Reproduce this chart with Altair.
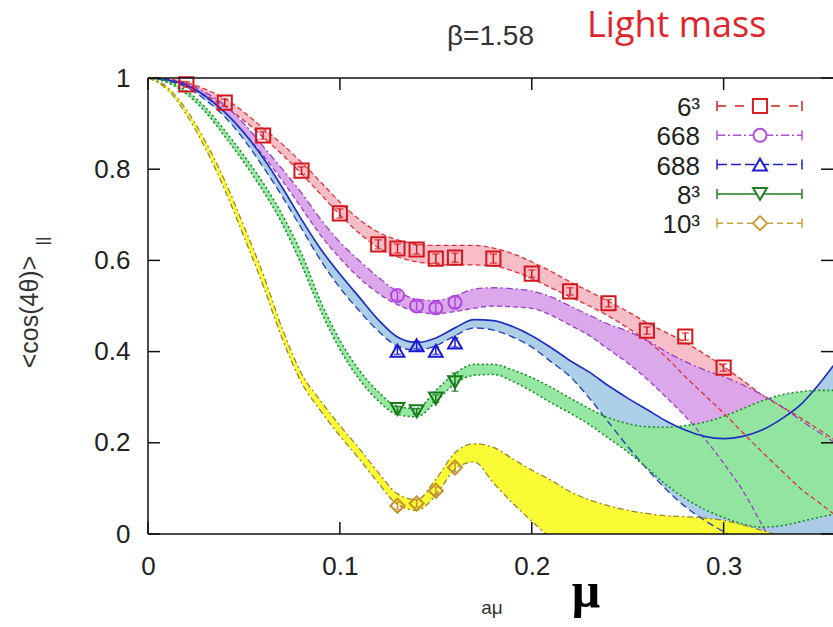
import altair as alt
import pandas as pd

# ---------------- data ----------------
MU = [0.00, 0.01, 0.02, 0.03, 0.04, 0.05, 0.06, 0.07, 0.08, 0.09,
      0.10, 0.11, 0.12, 0.13, 0.14, 0.15, 0.16, 0.17, 0.18, 0.19,
      0.20, 0.21, 0.22, 0.23, 0.24, 0.25, 0.26, 0.27, 0.28, 0.29,
      0.30, 0.31, 0.32, 0.33, 0.34, 0.35, 0.36]

B6_HI = [1.000, 0.998, 0.990, 0.975, 0.955, 0.925, 0.890, 0.855, 0.815, 0.772,
         0.728, 0.690, 0.662, 0.645, 0.636, 0.633, 0.633, 0.633, 0.627, 0.615,
         0.597, 0.576, 0.553, 0.532, 0.510, 0.488, 0.463, 0.442, 0.420, 0.395,
         0.367, 0.337, 0.305, 0.280, 0.255, 0.228, 0.200]
B6_LO = [1.000, 0.995, 0.980, 0.962, 0.938, 0.907, 0.870, 0.832, 0.790, 0.745,
         0.700, 0.660, 0.628, 0.608, 0.597, 0.592, 0.590, 0.590, 0.588, 0.577,
         0.560, 0.540, 0.520, 0.500, 0.478, 0.452, 0.424, 0.388, 0.345, 0.305,
         0.265, 0.222, 0.180, 0.140, 0.100, 0.068, 0.035]

B668_HI = [1.000, 0.997, 0.988, 0.968, 0.940, 0.900, 0.850, 0.800, 0.748, 0.690,
           0.640, 0.600, 0.563, 0.532, 0.515, 0.512, 0.522, 0.537, 0.540, 0.538,
           0.533, 0.520, 0.500, 0.480, 0.460, 0.445, 0.425, 0.400, 0.378, 0.360,
           0.345, 0.327, 0.305, 0.280, 0.250, 0.222, 0.195]
B668_LO = [1.000, 0.995, 0.982, 0.958, 0.925, 0.880, 0.830, 0.775, 0.715, 0.655,
           0.605, 0.562, 0.528, 0.503, 0.488, 0.483, 0.488, 0.495, 0.500, 0.498,
           0.495, 0.480, 0.458, 0.435, 0.405, 0.375, 0.340, 0.300, 0.258, 0.210,
           0.155, 0.095, 0.020, -0.060, -0.130, -0.200, -0.270]

B688_HI = [1.000, 0.996, 0.985, 0.960, 0.925, 0.880, 0.825, 0.760, 0.690, 0.625,
           0.570, 0.520, 0.470, 0.432, 0.420, 0.430, 0.452, 0.470, 0.468, 0.455,
           0.435, 0.409, 0.380, 0.355, 0.325, 0.298, 0.273, 0.248, 0.228, 0.214,
           0.209, 0.214, 0.228, 0.252, 0.283, 0.330, 0.385]
B688_LO = [1.000, 0.994, 0.980, 0.952, 0.915, 0.865, 0.805, 0.740, 0.670, 0.600,
           0.540, 0.490, 0.445, 0.412, 0.403, 0.413, 0.435, 0.452, 0.447, 0.432,
           0.410, 0.378, 0.345, 0.298, 0.245, 0.192, 0.143, 0.098, 0.060, 0.030,
           0.005, -0.020, -0.040, -0.060, -0.080, -0.100, -0.120]

B8_HI = [1.000, 0.993, 0.972, 0.935, 0.885, 0.830, 0.770, 0.700, 0.615, 0.510,
         0.425, 0.360, 0.312, 0.280, 0.275, 0.315, 0.352, 0.372, 0.372, 0.360,
         0.343, 0.322, 0.298, 0.275, 0.255, 0.242, 0.235, 0.234, 0.238, 0.245,
         0.258, 0.275, 0.292, 0.305, 0.312, 0.315, 0.315]
B8_LO = [1.000, 0.990, 0.965, 0.925, 0.872, 0.815, 0.752, 0.680, 0.590, 0.490,
         0.405, 0.340, 0.292, 0.262, 0.257, 0.290, 0.330, 0.348, 0.350, 0.335,
         0.313, 0.288, 0.265, 0.240, 0.210, 0.180, 0.145, 0.108, 0.078, 0.054,
         0.036, 0.022, 0.015, 0.018, 0.027, 0.037, 0.045]

B10_HI = [1.000, 0.980, 0.930, 0.860, 0.775, 0.675, 0.570, 0.450, 0.352, 0.292,
          0.238, 0.188, 0.135, 0.088, 0.075, 0.120, 0.178, 0.198, 0.190, 0.165,
          0.140, 0.118, 0.093, 0.075, 0.062, 0.052, 0.045, 0.040, 0.038, 0.035,
          0.030, 0.020, 0.008, -0.005, -0.020, -0.035, -0.050]
B10_LO = [1.000, 0.975, 0.920, 0.845, 0.755, 0.652, 0.545, 0.428, 0.332, 0.270,
          0.215, 0.165, 0.112, 0.065, 0.052, 0.085, 0.142, 0.158, 0.112, 0.068,
          0.028, -0.010, -0.050, -0.090, -0.130, -0.170, -0.210, -0.250, -0.290, -0.330,
          -0.370, -0.410, -0.450, -0.490, -0.530, -0.570, -0.610]

P6_MU = [0.02, 0.04, 0.06, 0.08, 0.10, 0.12, 0.13, 0.14, 0.15, 0.16,
         0.18, 0.20, 0.22, 0.24, 0.26, 0.28, 0.30]
P6_Y = [0.986, 0.946, 0.874, 0.797, 0.703, 0.635, 0.626, 0.624, 0.604, 0.606,
        0.604, 0.571, 0.532, 0.506, 0.446, 0.433, 0.365]
P6_E = [0.006, 0.008, 0.008, 0.008, 0.010, 0.010, 0.010, 0.010, 0.010, 0.010,
        0.010, 0.008, 0.008, 0.008, 0.008, 0.008, 0.008]

P4_MU = [0.13, 0.14, 0.15, 0.16]
P668_Y = [0.523, 0.500, 0.496, 0.508]
P668_E = [0.010, 0.010, 0.010, 0.012]
P688_Y = [0.402, 0.414, 0.402, 0.420]
P688_E = [0.008, 0.008, 0.008, 0.010]
P8_Y = [0.274, 0.269, 0.297, 0.333]
P8_E = [0.006, 0.006, 0.008, 0.020]
P10_Y = [0.062, 0.067, 0.095, 0.146]
P10_E = [0.008, 0.008, 0.008, 0.010]

SERIES = ["6³", "668", "688", "8³", "10³"]
XTICKS = [0, 0.1, 0.2, 0.3]
YTICKS = [0, 0.2, 0.4, 0.6, 0.8, 1.0]

# ---------------- styles ----------------
W, H = 685, 456
FONT = "Liberation Sans"
xs = alt.Scale(domain=[0, 0.357], nice=False, zero=False)
ys = alt.Scale(domain=[0, 1], nice=False, zero=False)

BANDS = {"6³": (B6_LO, B6_HI), "668": (B668_LO, B668_HI), "688": (B688_LO, B688_HI),
         "8³": (B8_LO, B8_HI), "10³": (B10_LO, B10_HI)}
POINTS = {"6³": (P6_MU, P6_Y, P6_E), "668": (P4_MU, P668_Y, P668_E),
          "688": (P4_MU, P688_Y, P688_E), "8³": (P4_MU, P8_Y, P8_E),
          "10³": (P4_MU, P10_Y, P10_E)}
FILL = {"6³": "#f8bac4", "668": "#d9a3ea", "688": "#a8cbe6", "8³": "#90e69c", "10³": "#fafa2a"}
LINES = {
    "6³": [("hi", "#e0303a", [5, 3], 1.3), ("lo", "#e0303a", [5, 3], 1.3)],
    "668": [("hi", "#9a40c4", [7, 3, 2, 3], 1.3), ("lo", "#9a40c4", [5, 3], 1.3)],
    "688": [("hi", "#1f2fbf", [], 1.7), ("lo", "#2a44b8", [7, 4], 1.4)],
    "8³": [("hi", "#1f8a2f", [2, 2.5], 1.6), ("lo", "#1f8a2f", [2, 2.5], 1.6)],
    "10³": [("hi", "#9a8530", [6, 3, 2, 3], 1.3), ("lo", "#9a8530", [6, 3, 2, 3], 1.3)],
}
MARK = {"6³": ("square", "#d4161c", 200), "668": ("circle", "#b048e0", 170),
        "688": ("triangle-up", "#1a1ad0", 190), "8³": ("triangle-down", "#1a7a1a", 190),
        "10³": ("diamond", "#c89030", 200)}
LEG = {"6³": ("#d42020", [9, 9]), "668": ("#b050d8", [8, 3, 2, 3]),
       "688": ("#2020c8", [10, 4]), "8³": ("#208020", []), "10³": ("#c8a040", [6, 4])}

x_axis = alt.Axis(values=XTICKS, format="~g", ticks=False, domain=False, grid=False,
                  labelFont=FONT, labelFontSize=26, labelColor="#222", labelPadding=19,
                  labelFlush=False, labelOverlap=False, title=None)
y_axis = alt.Axis(values=YTICKS, format="~g", ticks=False, domain=False, grid=False,
                  labelFont=FONT, labelFontSize=26, labelColor="#222", labelPadding=18,
                  labelFlush=False, labelOverlap=False, title=None)


def X(field):
    return alt.X(field, scale=xs, axis=x_axis)


def Y(field):
    return alt.Y(field, scale=ys, axis=y_axis)


layers = []
# bands
for s in SERIES:
    lo, hi = BANDS[s]
    df = pd.DataFrame({"mu": MU, "lo": lo, "hi": hi})
    layers.append(
        alt.Chart(df).mark_area(color=FILL[s], opacity=0.95, interpolate="monotone", clip=True)
        .encode(x=X("mu:Q"), y=Y("hi:Q"), y2="lo:Q")
    )
# band boundaries
for s in SERIES:
    lo, hi = BANDS[s]
    df = pd.DataFrame({"mu": MU, "lo": lo, "hi": hi})
    for bound, col, dash, sw in LINES[s]:
        kw = dict(color=col, strokeWidth=sw, interpolate="monotone", clip=True)
        if dash:
            kw["strokeDash"] = dash
        layers.append(alt.Chart(df).mark_line(**kw).encode(x=X("mu:Q"), y=Y(f"{bound}:Q")))
# data points with error bars
for s in SERIES:
    mu, yv, ev = POINTS[s]
    shape, col, size = MARK[s]
    df = pd.DataFrame({"mu": mu, "y": yv, "e": ev})
    base = alt.Chart(df).transform_calculate(lo="datum.y - datum.e", hi="datum.y + datum.e")
    layers.append(base.mark_rule(color=col, strokeWidth=1.5)
                  .encode(x=X("mu:Q"), y=Y("lo:Q"), y2="hi:Q"))
    for b in ("lo", "hi"):
        layers.append(base.mark_tick(color=col, orient="horizontal", size=7, thickness=1.5)
                      .encode(x=X("mu:Q"), y=Y(f"{b}:Q")))
    layers.append(base.mark_point(shape=shape, filled=False, color=col, size=size, strokeWidth=2, opacity=1)
                  .encode(x=X("mu:Q"), y=Y("y:Q")))

one = pd.DataFrame({"k": [0]})
# legend
for i, s in enumerate(SERIES):
    yy = 28 + i * 29.3
    col, dash = LEG[s]
    shape, mcol, size = MARK[s]
    layers.append(alt.Chart(one).mark_text(text=s, align="right", baseline="middle", font=FONT,
                                           fontSize=26, color="#222")
                  .encode(x=alt.value(552), y=alt.value(yy + 2)))
    kw = dict(color=col, strokeWidth=1.5)
    if dash:
        kw["strokeDash"] = dash
    layers.append(alt.Chart(one).mark_rule(**kw)
                  .encode(x=alt.value(569), x2=alt.value(654), y=alt.value(yy)))
    for cx in (569, 654):
        layers.append(alt.Chart(one).mark_rule(color=col, strokeWidth=1.5)
                      .encode(x=alt.value(cx), y=alt.value(yy - 5), y2=alt.value(yy + 5)))
    layers.append(alt.Chart(one).mark_point(shape=shape, filled=True, fill="white", stroke=col,
                                            size=size, strokeWidth=2, opacity=1)
                  .encode(x=alt.value(612), y=alt.value(yy)))

# inward ticks on all four sides
xt = pd.DataFrame({"v": XTICKS})
yt = pd.DataFrame({"v": YTICKS})
TK = dict(color="#111", strokeWidth=1.5)
layers.append(alt.Chart(xt).mark_rule(**TK).encode(x=X("v:Q"), y=alt.value(H - 12), y2=alt.value(H)))
layers.append(alt.Chart(xt).mark_rule(**TK).encode(x=X("v:Q"), y=alt.value(0), y2=alt.value(12)))
layers.append(alt.Chart(yt).mark_rule(**TK).encode(y=Y("v:Q"), x=alt.value(0), x2=alt.value(12)))
layers.append(alt.Chart(yt).mark_rule(**TK).encode(y=Y("v:Q"), x=alt.value(W - 12), x2=alt.value(W)))
# frame (left, bottom, top)
layers.append(alt.Chart(one).mark_rule(**TK).encode(x=alt.value(0), y=alt.value(0), y2=alt.value(H)))
layers.append(alt.Chart(one).mark_rule(**TK).encode(x=alt.value(0), x2=alt.value(W), y=alt.value(H)))
layers.append(alt.Chart(one).mark_rule(**TK).encode(x=alt.value(0), x2=alt.value(W), y=alt.value(0)))

# texts
layers.append(alt.Chart(one).mark_text(text="β=1.58", align="left", baseline="alphabetic",
                                       font=FONT, fontSize=28, color="#333")
              .encode(x=alt.value(299), y=alt.value(-33)))
layers.append(alt.Chart(one).mark_text(text="Light mass", align="left", baseline="alphabetic",
                                       font="Open Sans", fontSize=36, color="#e0262c")
              .encode(x=alt.value(439), y=alt.value(-41)))
layers.append(alt.Chart(one).mark_text(text="<cos(4θ)>", align="center", baseline="middle",
                                       angle=270, font=FONT, fontSize=25, color="#333")
              .encode(x=alt.value(-118), y=alt.value(234)))
layers.append(alt.Chart(one).mark_text(text="||", align="center", baseline="middle",
                                       angle=270, font=FONT, fontSize=17, color="#333")
              .encode(x=alt.value(-105), y=alt.value(163)))
layers.append(alt.Chart(one).mark_text(text="aμ", align="center", baseline="alphabetic",
                                       font=FONT, fontSize=19, color="#333")
              .encode(x=alt.value(344), y=alt.value(536)))
layers.append(alt.Chart(one).mark_text(text="μ", align="center", baseline="alphabetic",
                                       font="Liberation Serif", fontWeight="bold", fontSize=50,
                                       color="#000")
              .encode(x=alt.value(438), y=alt.value(529)))

chart = (alt.layer(*layers)
         .properties(width=W, height=H,
                     padding={"left": 148, "top": 78, "right": 0, "bottom": 93},
                     autosize=alt.AutoSizeParams(type="none"))
         .configure_view(stroke=None)
         .configure_axis(grid=False))

chart.save("out.html", embed_options={"renderer": "svg", "actions": False})
